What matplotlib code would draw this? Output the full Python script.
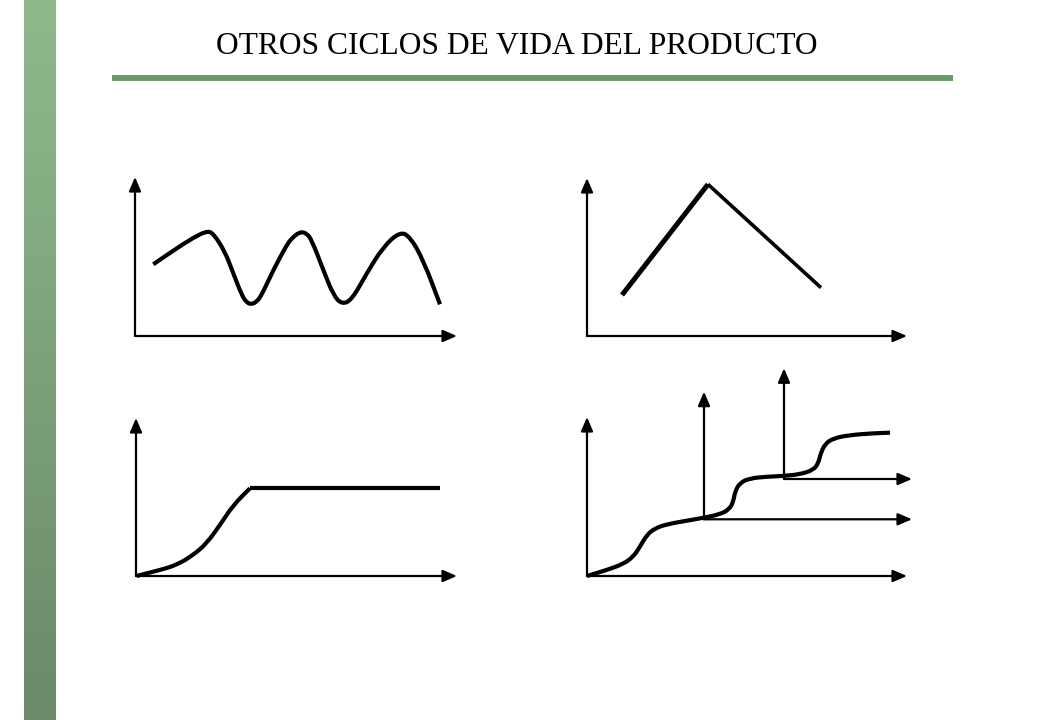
import numpy as np
import matplotlib.pyplot as plt
from matplotlib.path import Path
from matplotlib.patches import PathPatch

# curve points, in pixel-like units relative to each diagram's origin
wave_x = [18.3, 41.7, 58.3, 71.7, 78.3, 90, 98.3, 106.7, 111.7, 116.7, 121.7, 126.7, 138.3, 151.7, 156.7,
          165, 171.7, 176.7, 188.3, 198.3, 206.7, 216.7, 231.7, 248.3, 265, 275, 288.3, 305]
wave_y = [71.7, 87.7, 98.3, 105, 102.7, 84.3, 62.7, 41, 33.3, 31.7, 34.3, 41, 66, 91, 97.7,
          104.3, 102.7, 96, 66, 41, 31.7, 36, 62.7, 89.3, 104.3, 99.3, 76, 31.7]

peak_x = [35, 121, 234]
peak_y = [41, 151.7, 48.3]

flat_x = [0.7, 10.7, 24, 40.7, 57.3, 70.7, 84, 97.3, 114, 304]
flat_y = [0, 2.7, 6, 11, 21, 32.7, 51, 71, 87.7, 87.7]

step_x = [0, 19.7, 36.3, 46.3, 53, 59.7, 68, 79.7, 99.7, 117, 133, 142.3, 146.3, 148, 153, 163,
          179.7, 196.3, 213, 226.3, 231.3, 233.7, 238, 246.3, 263, 286.3, 303]
step_y = [0, 6, 12, 19.3, 29.3, 41, 47.7, 51.7, 55.3, 58.3, 61.7, 66.7, 74.3, 84.3, 93.3, 97.7,
          99.3, 100, 101.7, 106, 112.7, 122.7, 132, 137.7, 141, 142.7, 143.3]

W, H = 1040, 720
fig = plt.figure(figsize=(10.4, 7.2), dpi=100)
fig.patch.set_facecolor('white')

# green gradient bar on the left
bar = fig.add_axes([24 / W, 0, 32 / W, 1])
grad = np.linspace(0, 1, 256).reshape(-1, 1)
top = np.array([0x8f, 0xba, 0x8c]) / 255
bot = np.array([0x6a, 0x8a, 0x68]) / 255
img = top + (bot - top) * grad[..., None]
bar.imshow(img, aspect='auto', extent=[0, 1, 0, 1], origin='upper')
bar.axis('off')

# title and rule
fig.text(517 / W, 1 - 46 / H, "OTROS CICLOS DE VIDA DEL PRODUCTO", ha='center', va='center',
         fontsize=22.7, family='Liberation Serif', color='black')
rule = fig.add_axes([0, 0, 1, 1], facecolor='none')
rule.set_xlim(0, W)
rule.set_ylim(H, 0)
rule.axis('off')
rule.plot([112, 953], [77.5, 77.5], color='#6a9a68', lw=4.3, solid_capstyle='butt')


def diagram(ox, oy, xmin=-10, xmax=335, ymin=-10, ymax=215):
    ax = fig.add_axes([(ox + xmin) / W, (H - oy + ymin) / H, (xmax - xmin) / W, (ymax - ymin) / H])
    ax.set_xlim(xmin, xmax)
    ax.set_ylim(ymin, ymax)
    ax.axis('off')
    return ax


def arrow(ax, x0, y0, x1, y1):
    ax.annotate('', xy=(x1, y1), xytext=(x0, y0),
                arrowprops=dict(arrowstyle='-|>,head_length=0.7,head_width=0.3', lw=1.6,
                                color='black', shrinkA=0, shrinkB=0, mutation_scale=12))


def axes_pair(ax, x0, y0, xend, yend):
    arrow(ax, x0, y0, xend, y0)
    arrow(ax, x0, y0, x0, yend)


def smooth(ax, xs, ys, lw=3.0):
    # quadratic bezier through the midpoints, read points act as control points
    pts = np.column_stack([xs, ys])
    verts = [pts[0], (pts[0] + pts[1]) / 2]
    codes = [Path.MOVETO, Path.LINETO]
    for i in range(1, len(pts) - 1):
        verts += [pts[i], (pts[i] + pts[i + 1]) / 2]
        codes += [Path.CURVE3, Path.CURVE3]
    verts.append(pts[-1])
    codes.append(Path.LINETO)
    ax.add_patch(PathPatch(Path(verts, codes), fill=False, lw=lw, edgecolor='black',
                           capstyle='butt', joinstyle='round'))


# top-left: repeated cycles
ax1 = diagram(135, 336)
axes_pair(ax1, 0, 0, 322, 159)
smooth(ax1, wave_x, wave_y)

# top-right: rise and fall
ax2 = diagram(587, 336)
axes_pair(ax2, 0, 0, 320, 158)
ax2.plot(peak_x[:2], peak_y[:2], color='black', lw=3.6, solid_capstyle='butt')
ax2.plot(peak_x[1:], peak_y[1:], color='black', lw=2.6, solid_capstyle='butt')

# bottom-left: growth then plateau
ax3 = diagram(136, 576)
axes_pair(ax3, 0, 0, 321, 158)
smooth(ax3, flat_x[:-1], flat_y[:-1])
ax3.plot(flat_x[-2:], flat_y[-2:], color='black', lw=3.0, solid_capstyle='butt')

# bottom-right: successive launches
ax4 = diagram(587, 576)
axes_pair(ax4, 0, 0, 320, 159)
axes_pair(ax4, 117, 56.7, 325, 184.3)
axes_pair(ax4, 197, 97, 325, 207.7)
smooth(ax4, step_x, step_y)

fig.savefig('out.png', dpi=100, facecolor='white')
